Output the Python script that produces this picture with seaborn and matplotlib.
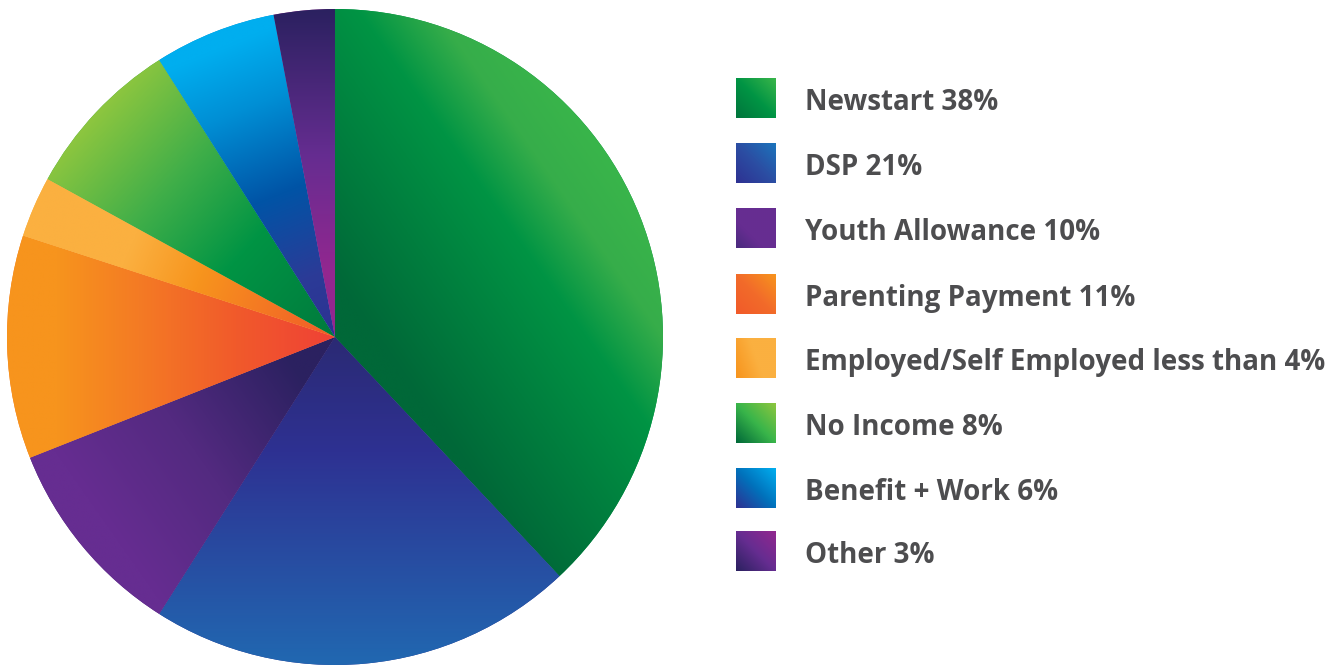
import numpy as np
import matplotlib
matplotlib.use("Agg")
import matplotlib.pyplot as plt
import seaborn as sns
from matplotlib.colors import LinearSegmentedColormap

# Income source of clients, share of total (%)
categories = ["Newstart", "DSP", "Youth Allowance", "Parenting Payment",
              "Employed/Self Employed", "No Income", "Benefit + Work", "Other"]
shares = [38, 21, 10, 11, 3, 8, 6, 3]
legend_labels = ["Newstart 38%", "DSP 21%", "Youth Allowance 10%",
                 "Parenting Payment 11%", "Employed/Self Employed less than 4%",
                 "No Income 8%", "Benefit + Work 6%", "Other 3%"]

# Gradient fill for each wedge: direction angle (deg), origin, and colour stops
wedge_grads = [
    (35, (0.0, 0.0), [(0.0, "#006838"), (0.1, "#006838"), (0.63, "#009444"), (0.82, "#36ad4a"), (1.0, "#39b54a")]),
    (-90, (0.0, 0.0), [(0.0, "#2b2a74"), (0.35, "#2e3192"), (1.0, "#2168b1")]),
    (-145, (0.0, 0.0), [(0.0, "#2b2160"), (0.15, "#2b2160"), (0.55, "#532a80"), (0.9, "#662d91"), (1.0, "#662d91")]),
    (180, (0.0, 0.0), [(0.0, "#ef4136"), (0.3, "#f15a2b"), (0.6, "#f47b24"), (0.85, "#f7941d"), (1.0, "#f7941d")]),
    (157, (0.0, 0.0), [(0.0, "#f15a29"), (0.45, "#f7941d"), (0.68, "#fbb040"), (1.0, "#fbb040")]),
    (138, (0.0, 0.0), [(0.0, "#007a3d"), (0.38, "#009444"), (0.68, "#3fae49"), (1.0, "#8dc63f")]),
    (112, (0.0, 0.0), [(0.0, "#2e3192"), (0.2, "#2b3b97"), (0.47, "#0054a6"), (0.75, "#008fd5"), (0.95, "#00aeef"), (1.0, "#00aeef")]),
    (-90, (0.0, 1.0), [(0.0, "#2b2160"), (0.45, "#662d91"), (0.8, "#92278f"), (1.0, "#92278f")]),
]

# Legend swatch gradients: (angle, colour stops)
swatch_grads = [
    (45, ["#00753c", "#009444", "#39b54a"]),
    (45, ["#2e3192", "#2b4ea3", "#1c75bc"]),
    (45, ["#4a2a7e", "#662d91", "#662d91", "#662d91"]),
    (45, ["#f15a29", "#f26b2a", "#f7941d"]),
    (20, ["#f7941d", "#fbb040", "#fbb040"]),
    (45, ["#006838", "#39b54a", "#8dc63f"]),
    (45, ["#2e3192", "#0072bc", "#00aeef"]),
    (45, ["#2b2160", "#662d91", "#92278f"]),
]

sns.set_theme(style="white")
plt.rcParams["font.family"] = ["Open Sans", "DejaVu Sans"]

W, H = 1342, 668
fig = plt.figure(figsize=(W / 100, H / 100), dpi=100)
fig.patch.set_facecolor("white")

# Pie axes
cx, cy, r = 335, 337, 328
ax = fig.add_axes([(cx - r) / W, (H - cy - r) / H, 2 * r / W, 2 * r / H])
wedges, _ = ax.pie(shares, startangle=90, counterclock=False, radius=1,
                   colors=sns.color_palette([g[2][len(g[2]) // 2][1] for g in wedge_grads]),
                   wedgeprops=dict(linewidth=0))

n = 800
xs = np.linspace(-1.02, 1.02, n)
X, Y = np.meshgrid(xs, xs)
for wedge, (ang, org, stops) in zip(wedges, wedge_grads):
    a = np.deg2rad(ang)
    t = (X - org[0]) * np.cos(a) + (Y - org[1]) * np.sin(a)
    t = np.clip(t, 0, 1)
    cmap = LinearSegmentedColormap.from_list("g", stops)
    im = ax.imshow(cmap(t), extent=(-1.02, 1.02, -1.02, 1.02), origin="lower",
                   interpolation="bilinear", zorder=2)
    im.set_clip_path(wedge)

ax.set_xlim(-1, 1)
ax.set_ylim(-1, 1)
ax.set_aspect("equal")
ax.axis("off")

# Legend drawn in pixel space
lax = fig.add_axes([0, 0, 1, 1])
lax.set_xlim(0, W)
lax.set_ylim(H, 0)
lax.axis("off")

sw_x, sw_size, txt_x = 736, 40, 806
row_y = [98, 163, 228, 294, 358, 423, 488, 551]
m = 60
u = np.linspace(0, 1, m)
U, V = np.meshgrid(u, u)
for yc, label, (ang, cols) in zip(row_y, legend_labels, swatch_grads):
    a = np.deg2rad(ang)
    t = (U * np.cos(a) + V * np.sin(a)) / (np.cos(a) + np.sin(a))
    cmap = LinearSegmentedColormap.from_list("s", cols)
    lax.imshow(cmap(t), extent=(sw_x, sw_x + sw_size, yc + sw_size / 2, yc - sw_size / 2),
               origin="lower", interpolation="bilinear")
    lax.text(txt_x - 1, yc + 12, label, fontsize=20.0, fontweight="bold",
             color="#4d4d4f", va="baseline", ha="left")

lax.set_xlim(0, W)
lax.set_ylim(H, 0)
lax.set_aspect("auto")

fig.savefig("out.png", dpi=100, facecolor="white")
